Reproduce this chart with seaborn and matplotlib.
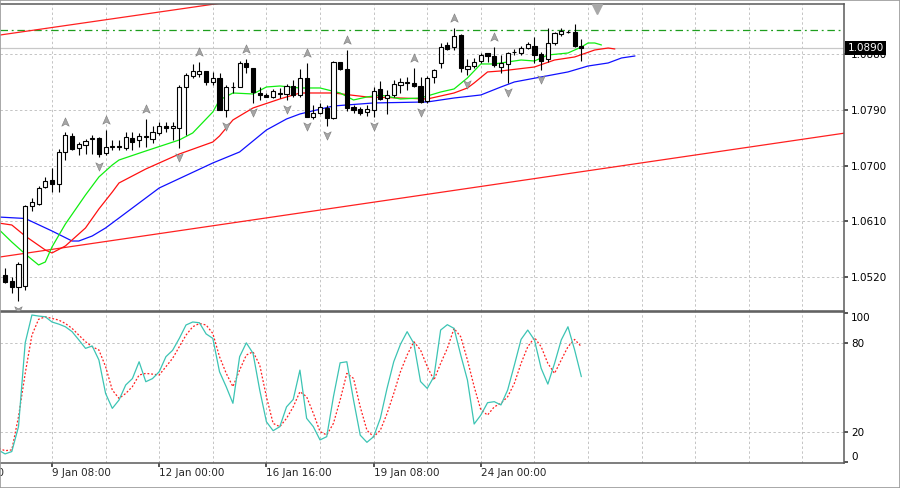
import numpy as np
import matplotlib
matplotlib.use("Agg")
import matplotlib.pyplot as plt
import matplotlib.transforms as mtransforms
from matplotlib.path import Path
import seaborn as sns

# EURUSD H4 candles (index 0 = first visible bar)
opens = [1.05234, 1.05137, 1.05040, 1.05056, 1.06349, 1.06381, 1.06656, 1.06769, 1.06705, 1.07222,
         1.07480, 1.07286, 1.07335, 1.07432, 1.07448, 1.07206, 1.07302, 1.07319, 1.07286, 1.07448,
         1.07416, 1.07456, 1.07432, 1.07529, 1.07642, 1.07610, 1.07610, 1.08272, 1.08450, 1.08482,
         1.08531, 1.08353, 1.08418, 1.07900, 1.08272, 1.08272, 1.08660, 1.08579, 1.08175, 1.08143,
         1.08110, 1.08159, 1.08159, 1.08288, 1.08143, 1.08418, 1.07787, 1.07852, 1.07933, 1.07771,
         1.08676, 1.08563, 1.07949, 1.07917, 1.07868, 1.07900, 1.08240, 1.08094, 1.08143, 1.08304,
         1.08337, 1.08337, 1.08288, 1.08046, 1.08434, 1.08660, 1.08951, 1.08918, 1.09112, 1.08563,
         1.08611, 1.08692, 1.08822, 1.08773, 1.08595, 1.08644, 1.08830, 1.08822, 1.08902, 1.08935,
         1.08805, 1.08725, 1.08983, 1.09129, 1.09153, 1.09161, 1.08935]
highs = [1.05347, 1.05202, 1.05444, 1.06365, 1.06478, 1.06672, 1.06818, 1.06963, 1.07270, 1.07545,
         1.07529, 1.07383, 1.07432, 1.07496, 1.07464, 1.07577, 1.07416, 1.07416, 1.07545, 1.07545,
         1.07529, 1.07755, 1.07642, 1.07706, 1.07706, 1.07706, 1.08304, 1.08498, 1.08644, 1.08676,
         1.08531, 1.08514, 1.08498, 1.08304, 1.08353, 1.08692, 1.08725, 1.08579, 1.08272, 1.08175,
         1.08240, 1.08256, 1.08321, 1.08385, 1.08563, 1.08660, 1.07981, 1.08014, 1.07981, 1.08692,
         1.08676, 1.08870, 1.07981, 1.07949, 1.07981, 1.08272, 1.08369, 1.08224, 1.08385, 1.08418,
         1.08434, 1.08579, 1.08434, 1.08450, 1.08563, 1.08983, 1.08999, 1.09226, 1.09129, 1.08725,
         1.08741, 1.08822, 1.08822, 1.08918, 1.08789, 1.08838, 1.08886, 1.08935, 1.08999, 1.09080,
         1.08838, 1.09226, 1.09161, 1.09226, 1.09193, 1.09290, 1.09048]
lows = [1.05105, 1.04943, 1.04814, 1.04992, 1.06268, 1.06365, 1.06640, 1.06575, 1.06575, 1.07092,
        1.07254, 1.07173, 1.07189, 1.07189, 1.07141, 1.07173, 1.07254, 1.07254, 1.07254, 1.07254,
        1.07302, 1.07302, 1.07367, 1.07496, 1.07545, 1.07416, 1.07286, 1.07496, 1.08418, 1.08434,
        1.08304, 1.08304, 1.07900, 1.07787, 1.08175, 1.08272, 1.08498, 1.08014, 1.08062, 1.08110,
        1.08094, 1.08094, 1.08062, 1.08110, 1.08110, 1.07787, 1.07755, 1.07836, 1.07642, 1.07755,
        1.08547, 1.07884, 1.07852, 1.07820, 1.07803, 1.07787, 1.08062, 1.07836, 1.08110, 1.08175,
        1.08224, 1.08272, 1.08014, 1.08014, 1.08337, 1.08579, 1.08870, 1.08870, 1.08514, 1.08466,
        1.08579, 1.08660, 1.08676, 1.08595, 1.08498, 1.08337, 1.08789, 1.08789, 1.08886, 1.08660,
        1.08547, 1.08676, 1.08951, 1.09096, 1.09145, 1.08918, 1.08692]
closes = [1.05121, 1.05040, 1.05412, 1.06349, 1.06414, 1.06640, 1.06753, 1.06705, 1.07222, 1.07496,
          1.07270, 1.07351, 1.07399, 1.07448, 1.07189, 1.07302, 1.07319, 1.07302, 1.07464, 1.07383,
          1.07480, 1.07472, 1.07545, 1.07642, 1.07610, 1.07642, 1.08272, 1.08466, 1.08531, 1.08531,
          1.08353, 1.08418, 1.07900, 1.08272, 1.08264, 1.08660, 1.08595, 1.08191, 1.08143, 1.08110,
          1.08207, 1.08175, 1.08288, 1.08143, 1.08418, 1.07787, 1.07852, 1.07949, 1.07771, 1.08676,
          1.08563, 1.07933, 1.07900, 1.07852, 1.07917, 1.08207, 1.08078, 1.08143, 1.08321, 1.08353,
          1.08353, 1.08288, 1.08030, 1.08418, 1.08547, 1.08918, 1.08886, 1.09096, 1.08579, 1.08611,
          1.08676, 1.08789, 1.08773, 1.08628, 1.08660, 1.08822, 1.08838, 1.08902, 1.08967, 1.08789,
          1.08692, 1.08983, 1.09145, 1.09177, 1.09161, 1.08935, 1.08900]

# Alligator lines (already shifted forward: lips 3, teeth 5, jaw 8 bars)
jaw_idx = [-1, 3, 7, 10, 11, 13, 15, 17, 23, 31, 35, 39, 42, 44, 49, 55, 63, 67, 71, 74, 76, 80, 84, 87, 90, 92, 94]
jaw_val = [1.06171, 1.06147, 1.05945, 1.05783, 1.05783, 1.05864, 1.05994, 1.06155, 1.06640, 1.07044,
           1.07222, 1.07577, 1.07755, 1.07836, 1.07965, 1.08014, 1.08030, 1.08094, 1.08143, 1.08272,
           1.08353, 1.08434, 1.08515, 1.08611, 1.08660, 1.08741, 1.08773]
teeth_idx = [-1, 1, 3, 6, 7, 9, 12, 14, 16, 17, 21, 26, 31, 32, 34, 37, 41, 44, 49, 54, 59, 63, 67, 69, 70,
             72, 74, 79, 82, 85, 88, 90, 91]
teeth_val = [1.06074, 1.06042, 1.05864, 1.05638, 1.05590, 1.05703, 1.05994, 1.06301, 1.06575, 1.06721,
             1.06947, 1.07189, 1.07383, 1.07480, 1.07739, 1.07933, 1.08078, 1.08175, 1.08175, 1.08111,
             1.08094, 1.08078, 1.08175, 1.08256, 1.08337, 1.08515, 1.08531, 1.08595, 1.08708, 1.08757,
             1.08870, 1.08902, 1.08886]
lips_idx = [-1, 1, 3, 5, 6, 7, 9, 12, 14, 16, 17, 21, 26, 28, 31, 32, 34, 37, 39, 41, 44, 47, 50, 52, 54,
            56, 59, 62, 65, 67, 69, 71, 73, 75, 77, 79, 81, 84, 86, 87, 88, 89]
lips_val = [1.05977, 1.05767, 1.05573, 1.05396, 1.05444, 1.05687, 1.06058, 1.06527, 1.06818, 1.07012,
            1.07092, 1.07238, 1.07416, 1.07529, 1.07868, 1.08062, 1.08175, 1.08159, 1.08272, 1.08288,
            1.08256, 1.08256, 1.08175, 1.08062, 1.08111, 1.08143, 1.08078, 1.08094, 1.08191, 1.08240,
            1.08418, 1.08644, 1.08644, 1.08676, 1.08708, 1.08692, 1.08789, 1.08821, 1.08918, 1.08983,
            1.08983, 1.08951]

# fractal bars
fractal_up = [9, 15, 21, 29, 36, 45, 51, 61, 67, 73]
fractal_down = [2, 14, 26, 33, 37, 42, 45, 48, 55, 62, 69, 75, 80]

# trend channel and level
upper_x = [-1, 40]
upper_y = [1.09108, 1.09749]
lower_x = [-1, 126]
lower_y = [1.05521, 1.07538]
level = 1.0919

# stochastic
stoch_idx = list(range(-1, 87))
stoch_main = [8, 5.4, 7, 23.7, 80, 98.7, 98, 97.5, 94, 92.6, 90.8, 87.5, 82, 76.3, 77.9, 68.5, 46, 36,
              41.6, 51.7, 56, 67.3, 53.9, 56, 60.6, 70.7, 75, 83, 92, 94, 93.5, 86, 83, 60.6, 50.5, 39.4,
              70.7, 80, 73, 48.3, 27, 21, 23.7, 37, 42, 61.7, 29.3, 23.7, 14.8, 17, 43.8, 66.6, 67.3,
              41.6, 18, 13.2, 17, 29.3, 49.4, 67.3, 79, 87.5, 79.6, 54, 49.4, 57.3, 88.6, 92.2, 89.7,
              71.8, 55, 25.5, 31.5, 39.8, 40.5, 38.3, 48.3, 65, 82.3, 88.6, 81.9, 62.9, 52.3, 66.2,
              81.9, 90.8, 75.2, 57.3]
stoch_signal = [9.2, 7.6, 8.1, 30.4, 59.5, 85.2, 95.8, 97.5, 96.4, 95.3, 93, 89.7, 85.2, 80.8, 77.4, 75.2,
                64, 48.3, 42.7, 46, 50.6, 58.4, 59.5, 59, 58.4, 64, 69.6, 77.4, 85.2, 90.8, 93, 92, 86.3,
                70.7, 59.5, 50.6, 61.7, 71.8, 74, 65.1, 43.8, 25.9, 23.7, 29.3, 37, 47.2, 43.8, 32.7,
                20.4, 18.1, 25.9, 41.6, 59.5, 56.1, 37, 21.3, 16.9, 21.3, 32.5, 46, 60.6, 71.8, 80.8,
                75.2, 64, 55, 66.2, 76.3, 89.7, 84.1, 68.5, 50.6, 34.9, 31.5, 37, 39.4, 43.8, 52.8,
                66.2, 77.4, 83.6, 77.4, 66.2, 59.5, 68.5, 77.4, 82.3, 77.4]

price_ticks = [1.0520, 1.0610, 1.0700, 1.0790, 1.0880]
stoch_ticks = [0, 20, 80, 100]
time_idx = [-9, 7, 23, 39, 55, 71]
time_labels = ["4 Jan 16:00", "9 Jan 08:00", "12 Jan 00:00", "16 Jan 16:00", "19 Jan 08:00", "24 Jan 00:00"]

sns.set_theme(style="white")
plt.rcParams["font.family"] = ["DejaVu Sans"]

fig = plt.figure(figsize=(9, 4.88), dpi=100)
ax = fig.add_axes([0, 0.3627, 0.9378, 0.6291])
ax2 = fig.add_axes([0, 0.0512, 0.9378, 0.3094])

xlim = (-0.76, 125.2)
grid_kw = dict(color="#c4c4c4", lw=0.7, ls=(0, (2.5, 2.5)), zorder=0)
for a in (ax, ax2):
    a.set_xlim(*xlim)
    a.set_facecolor("white")
    for g in range(7, 126, 8):
        a.axvline(g, **grid_kw)
    a.spines["left"].set_visible(False)
    for s in ("top", "right", "bottom"):
        a.spines[s].set_color("#5a5a5a")
        a.spines[s].set_linewidth(1.1)
    a.yaxis.tick_right()
    a.tick_params(axis="y", which="major", right=True, length=3, pad=2, labelsize=7.5,
                  color="#404040", labelcolor="black")

# ---- main panel ----
ax.set_ylim(1.04652, 1.09613)
for p in price_ticks:
    ax.axhline(p, **grid_kw)
ax.set_yticks(price_ticks)
ax.set_yticklabels([f"{p:.4f}" for p in price_ticks])
ax.set_xticks([])

ax.axhline(closes[-1], color="#c8c8c8", lw=0.9, zorder=1)
ax.axhline(level, color="#1e9e1e", lw=0.9, ls=(0, (6, 3, 1.5, 3)), zorder=1)
ax.plot(upper_x, upper_y, color="#ff2020", lw=0.9, zorder=1)
ax.plot(lower_x, lower_y, color="#ff2020", lw=0.9, zorder=1)

sns.lineplot(x=jaw_idx, y=jaw_val, ax=ax, color="#1010ff", linewidth=0.9, zorder=2)
sns.lineplot(x=teeth_idx, y=teeth_val, ax=ax, color="#ff1010", linewidth=0.9, zorder=2)
sns.lineplot(x=lips_idx, y=lips_val, ax=ax, color="#10ee10", linewidth=0.9, zorder=2)

o = np.array(opens)
h = np.array(highs)
l = np.array(lows)
c = np.array(closes)
idx = np.arange(len(o))
bull = c >= o
ax.vlines(idx, l, h, color="black", lw=0.8, zorder=3)
ax.bar(idx, np.maximum(np.abs(c - o), 0.00002), bottom=np.minimum(o, c), width=0.62,
       color=np.where(bull, "white", "black"), edgecolor="black", linewidth=0.8, zorder=4)

arrow_up = Path([(0, 1), (0.8, -0.8), (0, -0.35), (-0.8, -0.8), (0, 1)],
                [Path.MOVETO, Path.LINETO, Path.LINETO, Path.LINETO, Path.CLOSEPOLY])
arrow_dn = Path([(0, -1), (0.8, 0.8), (0, 0.35), (-0.8, 0.8), (0, -1)],
                [Path.MOVETO, Path.LINETO, Path.LINETO, Path.LINETO, Path.CLOSEPOLY])
fu = np.array(fractal_up)
fd = np.array(fractal_down)
ax.scatter(fu, h[fu] + 0.0016, marker=arrow_up, s=45, color="#a6a6a6", edgecolor="#7c7c7c",
           linewidth=0.4, zorder=5)
ax.scatter(fd, l[fd] - 0.0014, marker=arrow_dn, s=45, color="#a6a6a6", edgecolor="#7c7c7c",
           linewidth=0.4, zorder=5)

# chart shift marker
ax.plot([88.3], [0.985], marker="v", ms=7, color="#a8a8a8", transform=ax.get_xaxis_transform(),
        clip_on=False, zorder=6)

# current price label
ytrans = mtransforms.blended_transform_factory(ax.transAxes, ax.transData)
ax.text(1.004, closes[-1], f"{closes[-1]:.4f}", transform=ytrans, color="white", fontsize=7.5,
        ha="left", va="center", zorder=10, clip_on=False,
        bbox=dict(facecolor="black", edgecolor="none", pad=1.6))

# ---- stochastic panel ----
ax2.set_ylim(-0.7, 100.7)
for v in (20, 80):
    ax2.axhline(v, **grid_kw)
ax2.set_yticks(stoch_ticks)
labs = ax2.set_yticklabels([str(v) for v in stoch_ticks])
labs[0].set_va("bottom")
labs[-1].set_va("top")

sns.lineplot(x=stoch_idx, y=stoch_signal, ax=ax2, color="#ff2020", linewidth=0.9,
             linestyle=(0, (1.5, 1.5)), zorder=2)
sns.lineplot(x=stoch_idx, y=stoch_main, ax=ax2, color="#3cc4b4", linewidth=0.9, zorder=3)

ax2.set_xticks(time_idx[1:])
ax2.set_xticklabels([])
ax2.tick_params(axis="x", bottom=True, length=3, color="#404040")
xtrans = ax2.get_xaxis_transform()
for t, lab in zip(time_idx, time_labels):
    ax2.annotate(lab, xy=(t, 0), xycoords=xtrans, xytext=(0, -3.5), textcoords="offset points",
                 ha="left", va="top", fontsize=7.5, annotation_clip=False)

fig.add_artist(plt.Rectangle((0, 0), 1, 1, transform=fig.transFigure, fill=False,
                             edgecolor="#9a9a9a", lw=1.2))
fig.savefig("out.png", dpi=100)
